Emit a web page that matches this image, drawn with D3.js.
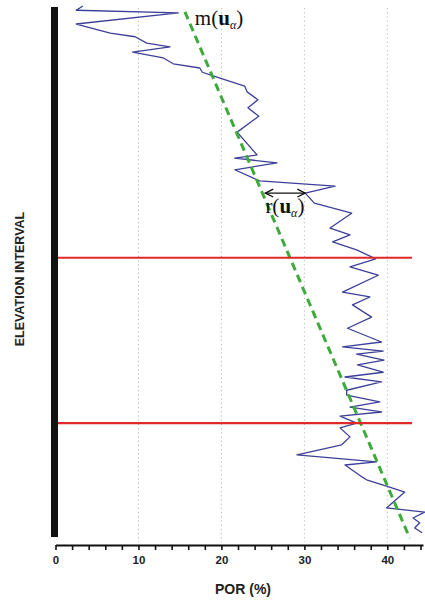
<!DOCTYPE html>
<html>
<head>
<meta charset="utf-8">
<script src="https://cdn.jsdelivr.net/npm/d3@7"></script>
<style>
  html, body { margin: 0; padding: 0; background: #fff; }
  svg { display: block; }
</style>
</head>
<body>
<svg id="chart" width="425" height="604"></svg>
<script>
// Porosity log (POR %) against normalized elevation interval (0 = top, 100 = bottom)
const porosity = [3.3, 2.5, 14.8, 2.5, 6.6, 9.6, 11.0, 13.8, 9.3, 13.0, 14.2, 17.4, 17.7, 19.0,
  22.8, 23.1, 24.4, 23.2, 24.5, 21.9, 24.3, 21.6, 26.7, 21.6, 24.6, 33.7, 30.1, 31.2, 35.7,
  33.1, 35.5, 33.4, 36.3, 38.6, 35.5, 38.9, 34.6, 37.9, 35.8, 38.1, 35.2, 39.3, 34.6, 39.5,
  36.3, 39.6, 36.4, 39.5, 34.9, 39.3, 35.1, 35.1, 39.1, 35.5, 39.3, 34.3, 36.3, 34.3, 35.5,
  34.5, 29.1, 38.7, 34.9, 37.0, 37.5, 39.9, 42.1, 39.9, 44.5, 43.1, 43.9, 43.3, 44.2];
const elevation = [0, 0.8, 1.3, 3.4, 5.1, 5.8, 7.0, 7.7, 8.7, 9.8, 10.9, 11.7, 12.5, 13.2,
  15.1, 16.2, 17.7, 19.2, 20.8, 23.8, 28.1, 28.7, 29.6, 30.9, 33.0, 34.0, 35.3, 37.2, 39.1,
  41.9, 43.2, 44.5, 46.0, 47.7, 49.2, 50.8, 54.0, 54.9, 56.4, 58.7, 60.8, 63.4, 64.3, 65.1,
  65.7, 66.8, 67.7, 69.1, 70.0, 70.9, 72.5, 73.4, 74.7, 75.7, 76.6, 77.4, 78.7, 79.6, 81.3,
  82.8, 84.7, 86.0, 86.6, 88.9, 89.4, 90.6, 91.7, 94.7, 95.5, 96.6, 97.5, 98.5, 99.4];

// Linear trend m(u) : [por, elevation] at both ends
const trendPor = [15.6, 42.7];
const trendElev = [1.1, 100.4];

// Zone boundaries (elevation)
const boundaries = [47.5, 78.7];

// Residual arrow r(u) at one elevation: from trend to data
const residualElev = 35.3;
const residualPor = [25.3, 30.1];

// Axis ticks
const tickValues = d3.range(0, 45, 2);
const labelledTicks = [0, 10, 20, 30, 40];
const gridValues = [10, 20, 30, 40];

const svg = d3.select("#chart");

const x = d3.scaleLinear().domain([0, 44.3]).range([55.5, 423]);
const y = d3.scaleLinear().domain([0, 100]).range([6, 536]);

// Dotted vertical grid
svg.append("g").selectAll("line").data(gridValues).join("line")
  .attr("x1", d => x(d)).attr("x2", d => x(d))
  .attr("y1", 8).attr("y2", 542)
  .attr("stroke", "#b8b8b8").attr("stroke-width", 1)
  .attr("stroke-dasharray", "1.2,3");

// Porosity curve
const line = d3.line().x(d => x(d[0])).y(d => y(d[1]));
svg.append("path")
  .datum(porosity.map((p, i) => [p, elevation[i]]))
  .attr("d", line)
  .attr("fill", "none")
  .attr("stroke", "#3d3f99")
  .attr("stroke-width", 1.3)
  .attr("stroke-linejoin", "round");

// Trend line
svg.append("line")
  .attr("x1", x(trendPor[0])).attr("y1", y(trendElev[0]))
  .attr("x2", x(trendPor[1])).attr("y2", y(trendElev[1]))
  .attr("stroke", "#3dab3a").attr("stroke-width", 3)
  .attr("stroke-dasharray", "8,5");

// Zone boundaries
svg.append("g").selectAll("line").data(boundaries).join("line")
  .attr("x1", x(0)).attr("x2", 412)
  .attr("y1", d => y(d)).attr("y2", d => y(d))
  .attr("stroke", "#e0282a").attr("stroke-width", 2.2);

// Thick elevation bar
svg.append("rect")
  .attr("x", 51).attr("width", 7)
  .attr("y", y(0) + 1).attr("height", y(100) - y(0))
  .attr("fill", "#111");

// Residual double arrow
const defs = svg.append("defs");
defs.append("marker")
  .attr("id", "ah").attr("viewBox", "0 0 10 10")
  .attr("refX", 9).attr("refY", 5)
  .attr("markerWidth", 7).attr("markerHeight", 7)
  .attr("orient", "auto-start-reverse")
  .append("path").attr("d", "M1,1 L9,5 L1,9").attr("fill", "none")
  .attr("stroke", "#111").attr("stroke-width", 1.4);
svg.append("line")
  .attr("x1", x(residualPor[0])).attr("x2", x(residualPor[1]))
  .attr("y1", y(residualElev)).attr("y2", y(residualElev))
  .attr("stroke", "#111").attr("stroke-width", 1.4)
  .attr("marker-start", "url(#ah)").attr("marker-end", "url(#ah)");

// Math labels
function mathLabel(letter, px, py) {
  const t = svg.append("text")
    .attr("x", px).attr("y", py)
    .attr("font-family", "'Liberation Serif', 'DejaVu Serif', serif")
    .attr("font-size", 21).attr("fill", "#111");
  t.append("tspan").text(letter + "(");
  t.append("tspan").attr("font-weight", "bold").text("u");
  t.append("tspan").attr("font-size", 12).attr("dy", 4).attr("font-style", "italic").text("α");
  t.append("tspan").attr("dy", -4).text(")");
}
mathLabel("m", x(16.8), y(3.6));
mathLabel("r", x(25.3), y(39.1));

// Bottom axis
const axis = d3.axisBottom(x)
  .tickValues(tickValues)
  .tickSize(5)
  .tickSizeOuter(0)
  .tickPadding(6)
  .tickFormat(d => labelledTicks.includes(d) ? d : "");
const gAxis = svg.append("g").attr("transform", "translate(0,545)").call(axis);
gAxis.select(".domain").attr("stroke", "#111").attr("stroke-width", 2.2);
gAxis.selectAll(".tick line").attr("stroke", "#111").attr("stroke-width", 1.6);
gAxis.selectAll(".tick text")
  .attr("font-family", "'Liberation Sans', Arial, sans-serif")
  .attr("font-weight", "bold").attr("font-size", 11.5).attr("fill", "#222");

// Axis titles
svg.append("text")
  .attr("x", 243).attr("y", 594)
  .attr("text-anchor", "middle")
  .attr("font-family", "'Liberation Sans', Arial, sans-serif")
  .attr("font-weight", "bold").attr("font-size", 14).attr("fill", "#222")
  .text("POR (%)");

svg.append("text")
  .attr("transform", "translate(24,279) rotate(-90)")
  .attr("text-anchor", "middle")
  .attr("font-family", "'Liberation Sans', Arial, sans-serif")
  .attr("font-weight", "bold").attr("font-size", 12.5).attr("fill", "#222")
  .text("ELEVATION INTERVAL");
</script>
</body>
</html>
